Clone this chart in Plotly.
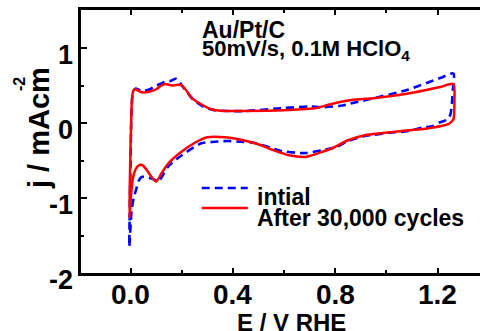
import plotly.graph_objects as go

# ---- data (E / V RHE, j / mA cm^-2) ----
E_initial = [-0.005, -0.004, 0.000, 0.004, 0.010, 0.020, 0.035, 0.050, 0.075, 0.095, 0.115, 0.134,
             0.155, 0.177, 0.190, 0.205, 0.219, 0.245, 0.284, 0.330, 0.388, 0.450, 0.600, 0.700,
             0.750, 0.820, 0.860, 0.974, 1.080, 1.210, 1.262,
             1.260, 1.256, 1.250, 1.235, 1.210, 1.183, 1.144, 1.080, 1.014, 0.948, 0.920, 0.844,
             0.805, 0.753, 0.688, 0.662, 0.584, 0.557, 0.479, 0.427, 0.380, 0.330, 0.277, 0.200,
             0.147, 0.108, 0.095, 0.082, 0.060, 0.043, 0.030, 0.023, 0.012, 0.004, -0.005]
j_initial = [-1.65, -1.30, -0.50, 0.20, 0.42, 0.46, 0.44, 0.43, 0.45, 0.49, 0.52, 0.55,
             0.56, 0.59, 0.55, 0.48, 0.42, 0.31, 0.22, 0.17, 0.16, 0.16, 0.20, 0.22,
             0.21, 0.23, 0.26, 0.35, 0.44, 0.60, 0.66,
             0.45, 0.26, 0.11, 0.04, 0.01, -0.04, -0.06, -0.11, -0.13, -0.16, -0.17, -0.25,
             -0.32, -0.36, -0.40, -0.40, -0.37, -0.34, -0.26, -0.25, -0.24, -0.25, -0.27, -0.43,
             -0.58, -0.78, -0.76, -0.74, -0.72, -0.72, -0.78, -0.87, -1.00, -1.16, -1.65]

E_after = [-0.005, -0.002, 0.002, 0.006, 0.012, 0.020, 0.030, 0.043, 0.060, 0.075, 0.100, 0.120,
           0.135, 0.150, 0.167, 0.185, 0.195, 0.212, 0.238, 0.271, 0.317, 0.369, 0.440, 0.600,
           0.700, 0.727, 0.770, 0.818, 0.870, 0.948, 1.080, 1.210, 1.262,
           1.266, 1.262, 1.245, 1.215, 1.183, 1.144, 1.053, 0.920, 0.850, 0.792, 0.753, 0.688,
           0.620, 0.557, 0.505, 0.427, 0.370, 0.300, 0.258, 0.200, 0.147, 0.121, 0.100, 0.082,
           0.062, 0.045, 0.030, 0.018, 0.008, 0.002, -0.005]
j_after = [-1.27, -0.60, 0.00, 0.35, 0.44, 0.45, 0.43, 0.41, 0.41, 0.42, 0.45, 0.50,
           0.52, 0.51, 0.50, 0.51, 0.51, 0.46, 0.34, 0.26, 0.18, 0.16, 0.16, 0.17,
           0.19, 0.20, 0.24, 0.28, 0.31, 0.33, 0.39, 0.48, 0.52,
           0.30, 0.05, -0.01, -0.04, -0.06, -0.08, -0.11, -0.16, -0.23, -0.33, -0.38, -0.45,
           -0.43, -0.36, -0.29, -0.22, -0.19, -0.19, -0.25, -0.38, -0.54, -0.67, -0.78, -0.72,
           -0.62, -0.56, -0.57, -0.63, -0.75, -0.95, -1.27]

series_names = ["intial", "After 30,000 cycles"]
x_ticks = [0.0, 0.4, 0.8, 1.2]
x_tick_labels = ["0.0", "0.4", "0.8", "1.2"]
y_ticks = [-2, -1, 0, 1]
y_tick_labels = ["-2", "-1", "0", "1"]

FONT = "Liberation Sans, Arial, sans-serif"
L, R, T, B = 81, 480, 10, 273
XR = [-0.194, 1.366]
YR = [-2, 1.507]

def px_y(py):
    return (B - py) / (B - T)

def px_x(px):
    return (px - L) / (R - L)

fig = go.Figure()
fig.add_trace(go.Scatter(x=E_initial, y=j_initial, mode="lines", name=series_names[0],
                         line=dict(color="#0000FF", width=2.6, dash="8px,5px", shape="spline", smoothing=0.7),
                         showlegend=False))
fig.add_trace(go.Scatter(x=E_after, y=j_after, mode="lines", name=series_names[1],
                         line=dict(color="#FF0000", width=2.5, shape="spline", smoothing=0.7),
                         showlegend=False))

# legend drawn by hand
fig.add_shape(type="line", xref="x", yref="y", x0=0.278, x1=0.458, y0=-0.867, y1=-0.867,
              line=dict(color="#0000FF", width=2.6, dash="8px,5px"))
fig.add_shape(type="line", xref="x", yref="y", x0=0.278, x1=0.458, y0=-1.133, y1=-1.133,
              line=dict(color="#FF0000", width=2.5))
fig.add_annotation(x=0.486, y=-0.99, xref="x", yref="y", text="<b>" + series_names[0] + "</b>",
                   showarrow=False, xanchor="left", yanchor="middle",
                   font=dict(family=FONT, size=23, color="black"))
fig.add_annotation(x=0.486, y=-1.26, xref="x", yref="y", text="<b>" + series_names[1] + "</b>",
                   showarrow=False, xanchor="left", yanchor="middle",
                   font=dict(family=FONT, size=23, color="black"))

# header text
fig.add_annotation(x=0.272, y=1.245, xref="x", yref="y", text="<b>Au/Pt/C</b>",
                   showarrow=False, xanchor="left", yanchor="middle",
                   font=dict(family=FONT, size=23, color="black"))
fig.add_annotation(x=0.272, y=0.975, xref="x", yref="y", text="<b>50mV/s, 0.1M HClO<sub>4</sub></b>",
                   showarrow=False, xanchor="left", yanchor="middle",
                   font=dict(family=FONT, size=22, color="black"))

# tick labels placed at the axis tick values
for v, t in zip(x_ticks, x_tick_labels):
    fig.add_annotation(x=v, y=px_y(294), xref="x", yref="paper", text="<b>%s</b>" % t,
                       showarrow=False, xanchor="center", yanchor="middle",
                       font=dict(family=FONT, size=28, color="black"))
for v, t in zip(y_ticks, y_tick_labels):
    fig.add_annotation(x=px_x(75), y=v, yshift=-7, xref="paper", yref="y", text="<b>%s</b>" % t,
                       showarrow=False, xanchor="right", yanchor="middle",
                       font=dict(family=FONT, size=27, color="black"))

# axis titles
fig.add_annotation(x=px_x(39), y=px_y(128), xref="paper", yref="paper", text="<b>j / mAcm</b>",
                   showarrow=False, textangle=-90, xanchor="center", yanchor="middle",
                   font=dict(family=FONT, size=29, color="black"))
fig.add_annotation(x=px_x(20), y=px_y(84), xref="paper", yref="paper", text="<b>-2</b>",
                   showarrow=False, textangle=-90, xanchor="center", yanchor="middle",
                   font=dict(family=FONT, size=16, color="black"))
fig.add_annotation(x=px_x(291), y=px_y(322), xref="paper", yref="paper", text="<b>E / V RHE</b>",
                   showarrow=False, xanchor="center", yanchor="middle",
                   font=dict(family=FONT, size=24, color="black"))

fig.update_layout(
    width=480, height=331,
    margin=dict(l=L, r=480 - R, t=T, b=331 - B, pad=0),
    paper_bgcolor="white", plot_bgcolor="white",
    font=dict(family=FONT, color="black"),
)
fig.update_xaxes(range=XR, tickvals=x_ticks, showticklabels=False,
                 ticks="inside", ticklen=5, tickwidth=2, tickcolor="black",
                 minor=dict(dtick=0.2, tick0=0, ticks="inside", ticklen=3, tickwidth=2, tickcolor="black"),
                 showline=True, linewidth=2.5, linecolor="black", mirror="ticks",
                 showgrid=False, zeroline=False)
fig.update_yaxes(range=YR, tickvals=y_ticks, showticklabels=False,
                 ticks="inside", ticklen=6, tickwidth=2, tickcolor="black",
                 minor=dict(dtick=0.5, tick0=0, ticks="inside", ticklen=3, tickwidth=2, tickcolor="black"),
                 showline=True, linewidth=2.5, linecolor="black", mirror=False,
                 showgrid=False, zeroline=False)

fig.write_html("out.html")
